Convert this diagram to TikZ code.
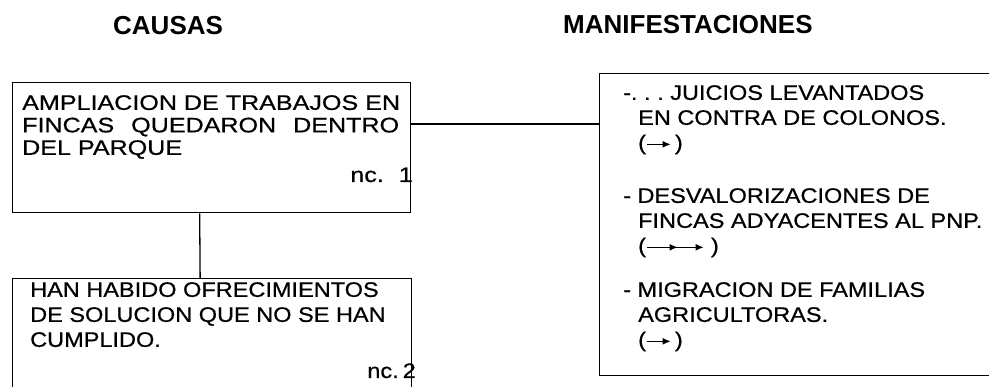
\documentclass[tikz,border=0pt]{standalone}
\usepackage{fontspec}
\setmainfont[FakeStretch=1.12, FakeBold=0.6]{Liberation Sans}
\newfontfamily\anchafont[FakeStretch=1.195, FakeBold=0.6]{Liberation Sans}
\newfontfamily\titulofont{Liberation Sans}
\usetikzlibrary{arrows.meta, positioning, calc}

\newcommand{\flecha}{\tikz[baseline=-0.5ex, x=1pt, y=1pt]
  \draw[-{Latex[length=8pt,width=7pt]}, line width=1.4pt] (0,0) -- (24,0);}
\newcommand{\flechadoble}{\tikz[baseline=-0.5ex, x=1pt, y=1pt]
  {\draw[-{Latex[length=8pt,width=7pt]}, line width=1.4pt] (0,0) -- (31,0);
   \draw[-{Latex[length=8pt,width=7pt]}, line width=1.4pt] (29,0) -- (57,0);}}

\begin{document}
\begin{tikzpicture}[
    x=1pt, y=-1pt,
    caja/.style={draw, line width=1.3pt, inner sep=0pt, anchor=north west},
    texto/.style={inner sep=0pt, align=left, anchor=north west, font=\fontsize{21}{25}\selectfont},
    titulo/.style={inner sep=0pt, anchor=base west, font=\titulofont\bfseries\fontsize{26}{30}\selectfont},
    nota/.style={inner sep=0pt, anchor=base east, font=\fontsize{21}{25}\selectfont},
    enlace/.style={line width=1.3pt},
]
    \clip (0,0) rectangle (989,387);

    % Titulos
    \node[titulo] (causas) at (113,35) {CAUSAS};
    \node[titulo] (manif) at (563,34) {MANIFESTACIONES};

    % Cajas
    \node[caja, minimum width=398pt, minimum height=130pt] (caja1) at (12,82) {};
    \node[caja, minimum width=399pt, minimum height=120pt] (caja2) at (12,278) {};
    \node[caja, minimum width=420pt, minimum height=302pt] (caja3) at (599,73) {};

    % Causas
    \node[texto, font=\anchafont\fontsize{21}{22.5}\selectfont] (causa1) at (22,95)
        {AMPLIACION DE TRABAJOS EN\\FINCAS\hspace{17pt}QUEDARON\hspace{17pt}DENTRO\\DEL PARQUE};
    \node[nota, font=\anchafont\fontsize{21}{25}\selectfont] (nc1) at (413,182) {nc.\hspace{15pt}1};
    \node[texto] (causa2) at (30,282)
        {HAN HABIDO OFRECIMIENTOS\\DE SOLUCION QUE NO SE HAN\\CUMPLIDO.};
    \node[nota] (nc2) at (416,378) {nc.\hspace{4pt}2};

    % Manifestaciones
    \node[texto] (manif1) at (623,85)
        {-.\ .\ .\ JUICIOS LEVANTADOS\\\hspace*{15pt}EN CONTRA DE COLONOS.\\\hspace*{15pt}(\flecha\,)};
    \node[texto] (manif2) at (623,188)
        {- DESVALORIZACIONES DE\\\hspace*{15pt}FINCAS ADYACENTES AL PNP.\\\hspace*{15pt}(\flechadoble\ )};
    \node[texto] (manif3) at (623,282)
        {- MIGRACION DE FAMILIAS\\\hspace*{15pt}AGRICULTORAS.\\\hspace*{15pt}(\flecha\,)};

    % Enlaces
    \draw[enlace] ($(caja1.south west)!0.47!(caja1.south east)$)
        -- ($(caja2.north west)!0.47!(caja2.north east)$);
    \draw[enlace] ($(caja1.north east)!0.32!(caja1.south east)$) coordinate (c1)
        -- (c1 -| caja3.west);
\end{tikzpicture}
\end{document}
